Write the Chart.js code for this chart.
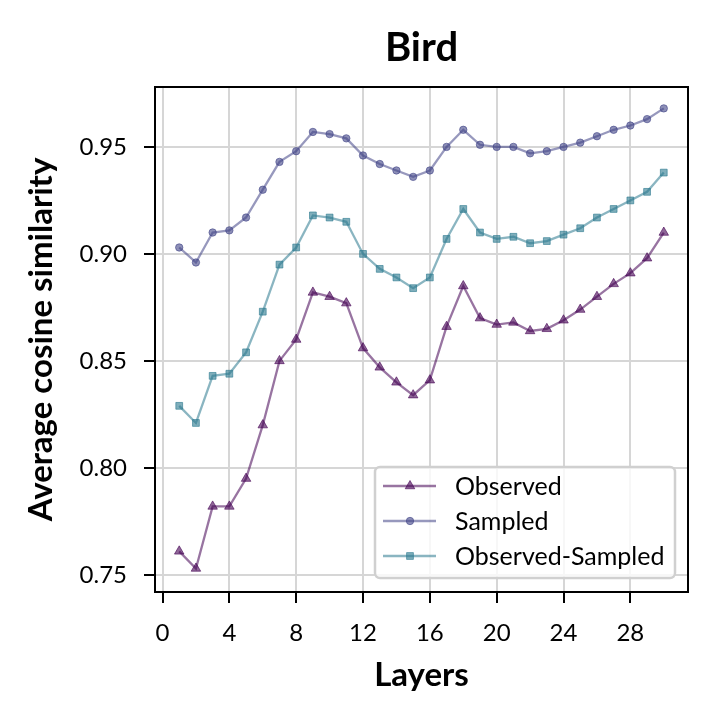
<!DOCTYPE html>
<html>
<head>
<meta charset="utf-8">
<script src="https://cdn.jsdelivr.net/npm/chart.js@4/dist/chart.umd.min.js"></script>
<style>
  html, body { margin: 0; padding: 0; background: #fff; }
  #wrap { width: 718px; height: 721px; }
</style>
</head>
<body>
<div id="wrap"><canvas id="chart" width="718" height="721"></canvas></div>
<script>
// data
const layers = [1, 2, 3, 4, 5, 6, 7, 8, 9, 10, 11, 12, 13, 14, 15, 16, 17, 18, 19, 20, 21, 22, 23, 24, 25, 26, 27, 28, 29, 30];
const observed = [0.761, 0.753, 0.782, 0.782, 0.795, 0.820, 0.850, 0.860, 0.882, 0.880, 0.877, 0.856, 0.847, 0.840, 0.834, 0.841,
  0.866, 0.885, 0.870, 0.867, 0.868, 0.864, 0.865, 0.869, 0.874, 0.880, 0.886, 0.891, 0.898, 0.910];
const sampled = [0.903, 0.896, 0.910, 0.911, 0.917, 0.930, 0.943, 0.948, 0.957, 0.956, 0.954, 0.946, 0.942, 0.939, 0.936, 0.939,
  0.950, 0.958, 0.951, 0.950, 0.950, 0.947, 0.948, 0.950, 0.952, 0.955, 0.958, 0.960, 0.963, 0.968];
const obsMinusSampled = [0.829, 0.821, 0.843, 0.844, 0.854, 0.873, 0.895, 0.903, 0.918, 0.917, 0.915, 0.900, 0.893, 0.889, 0.884, 0.889,
  0.907, 0.921, 0.910, 0.907, 0.908, 0.905, 0.906, 0.909, 0.912, 0.917, 0.921, 0.925, 0.929, 0.938];
const seriesNames = ['Observed', 'Sampled', 'Observed-Sampled'];
const xTicks = [0, 4, 8, 12, 16, 20, 24, 28];
const yTicks = [0.75, 0.80, 0.85, 0.90, 0.95];

const font = 'Lato';
const toPoints = arr => layers.map((l, i) => ({ x: l, y: arr[i] }));

const makeSet = (label, values, rgb, style, radius) => ({
    label: label,
    data: toPoints(values),
    borderColor: `rgba(${rgb},0.55)`,
    backgroundColor: `rgba(${rgb},0.6)`,
    pointBackgroundColor: `rgba(${rgb},0.6)`,
    pointBorderColor: `rgba(${rgb},0.6)`,
    pointBorderWidth: 1,
    borderWidth: 2.3,
    pointStyle: style,
    pointRadius: radius,
    tension: 0
});

// frame around the plot + legend box in the lower right
const framePlugin = {
    id: 'frame',
    afterDraw(chart) {
        const { ctx, chartArea: a } = chart;
        ctx.save();
        ctx.strokeStyle = '#000';
        ctx.lineWidth = 2;
        ctx.strokeRect(a.left, a.top, a.right - a.left, a.bottom - a.top);

        // legend
        const bx = 375, by = 467, bw = 300, bh = 111;
        ctx.beginPath();
        ctx.roundRect(bx, by, bw, bh, 5);
        ctx.fillStyle = 'rgba(255,255,255,0.8)';
        ctx.fill();
        ctx.strokeStyle = '#d0d0d0';
        ctx.lineWidth = 2.5;
        ctx.stroke();

        ctx.font = `25px ${font}`;
        ctx.textBaseline = 'alphabetic';
        ctx.textAlign = 'left';
        chart.data.datasets.forEach((ds, i) => {
            const y = 486 + i * 35;
            ctx.beginPath();
            ctx.strokeStyle = ds.borderColor;
            ctx.lineWidth = ds.borderWidth;
            ctx.moveTo(383, y);
            ctx.lineTo(436, y);
            ctx.stroke();
            ctx.fillStyle = ds.pointBackgroundColor;
            ctx.strokeStyle = ds.pointBorderColor;
            ctx.lineWidth = 1;
            Chart.helpers.drawPoint(ctx, { pointStyle: ds.pointStyle, radius: ds.pointRadius, rotation: 0, borderWidth: 1 }, 410, y);
            ctx.fillStyle = '#000';
            ctx.fillText(ds.label, 455, y + 9);
        });
        ctx.restore();
    }
};

const ctx = document.getElementById('chart').getContext('2d');
new Chart(ctx, {
    type: 'line',
    data: {
        datasets: [
            makeSet(seriesNames[0], observed, '68,1,84', 'triangle', 5.5),
            makeSet(seriesNames[1], sampled, '65,68,135', 'circle', 3.7),
            makeSet(seriesNames[2], obsMinusSampled, '42,120,142', 'rect', 4.8)
        ]
    },
    options: {
        responsive: false,
        animation: false,
        layout: { padding: { left: 0, top: 0, right: 30, bottom: 0 } },
        plugins: {
            legend: { display: false },
            tooltip: { enabled: false },
            title: {
                display: true,
                fullSize: false,
                text: 'Bird',
                color: '#000',
                font: { family: font, size: 40, weight: 'bold', lineHeight: 1.2 },
                padding: { top: 24.5, bottom: 14.5 }
            }
        },
        scales: {
            x: {
                type: 'linear',
                min: -0.45,
                max: 31.45,
                afterBuildTicks: s => { s.ticks = xTicks.map(v => ({ value: v })); },
                afterFit: s => { s.height = 129; },
                grid: { color: '#d6d6d6', lineWidth: 2, tickColor: '#000', tickLength: 11, tickWidth: 2 },
                border: { display: true, color: '#000', width: 2 },
                ticks: { color: '#000', font: { family: font, size: 24 }, padding: 16, maxRotation: 0 },
                title: {
                    display: true,
                    text: 'Layers',
                    color: '#000',
                    font: { family: font, size: 33, weight: 'bold', lineHeight: 1.2 },
                    padding: { top: 0, bottom: 26 }
                }
            },
            y: {
                min: 0.742,
                max: 0.978,
                afterBuildTicks: s => { s.ticks = yTicks.map(v => ({ value: v })); },
                afterFit: s => { s.width = 155; },
                grid: { color: '#d6d6d6', lineWidth: 2, tickColor: '#000', tickLength: 11, tickWidth: 2 },
                border: { display: true, color: '#000', width: 2 },
                ticks: {
                    color: '#000',
                    font: { family: font, size: 24 },
                    padding: 17,
                    callback: v => v.toFixed(2)
                },
                title: {
                    display: true,
                    text: 'Average cosine similarity',
                    color: '#000',
                    font: { family: font, size: 33, weight: 'bold', lineHeight: 1.2 },
                    padding: { top: 22, bottom: 0 }
                }
            }
        }
    },
    plugins: [framePlugin]
});
</script>
</body>
</html>
